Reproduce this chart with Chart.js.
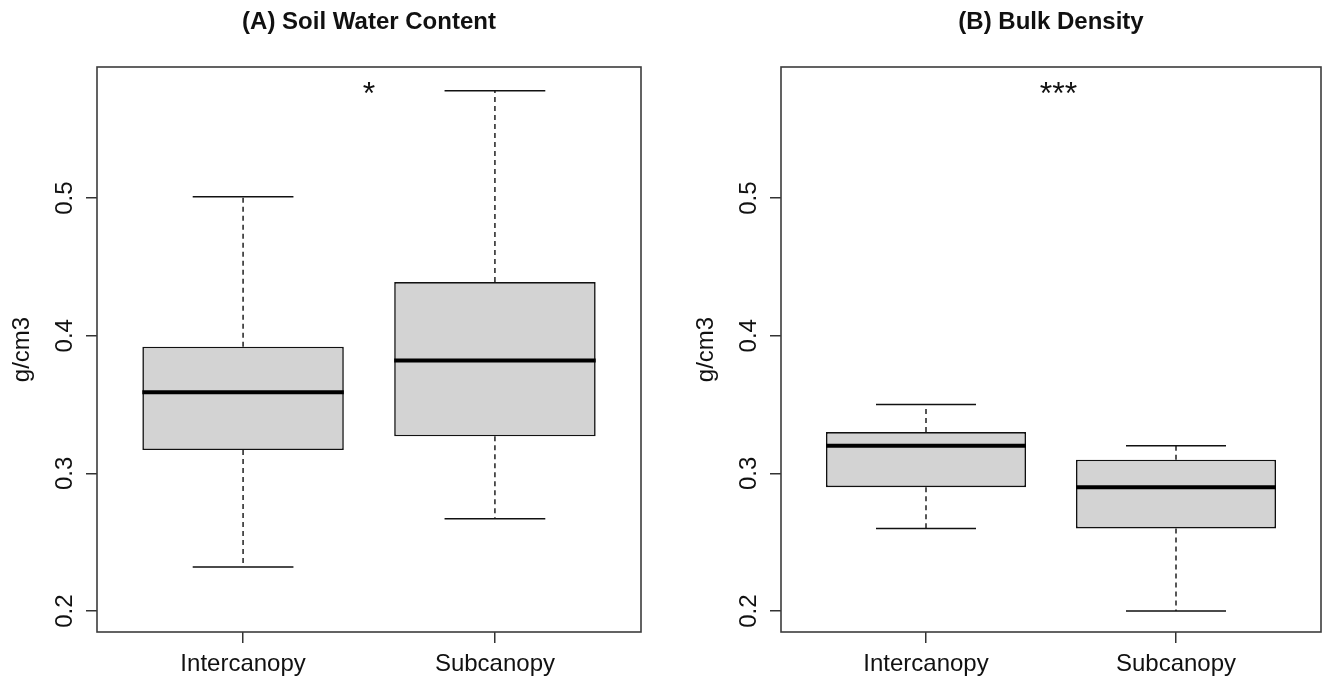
<!DOCTYPE html>
<html>
<head>
<meta charset="utf-8">
<title>Soil water content and bulk density</title>
<script src="https://cdn.jsdelivr.net/npm/chart.js@4.4.1/dist/chart.umd.min.js"></script>
<style>
  html, body { margin: 0; padding: 0; background: #ffffff; }
  #wrap { position: relative; width: 1325px; height: 681px; overflow: hidden; }
  .panel { position: absolute; top: 0; height: 681px; }
  #pA { left: 0; width: 662px; }
  #pB { left: 662px; width: 663px; }
</style>
</head>
<body>
<div id="wrap">
  <div class="panel" id="pA"><canvas id="cA" width="662" height="681"></canvas></div>
  <div class="panel" id="pB"><canvas id="cB" width="663" height="681"></canvas></div>
</div>
<script>
// Groups and axis settings
const groups = ['Intercanopy', 'Subcanopy'];
const yTicks = [0.2, 0.3, 0.4, 0.5];
const yLimits = [0.2, 0.58];
const yLabel = 'g/cm3';

// (A) Soil water content: five-number summaries per group
const swcMin    = [0.232, 0.267];
const swcQ1     = [0.317, 0.327];
const swcMedian = [0.359, 0.382];
const swcQ3     = [0.392, 0.439];
const swcMax    = [0.501, 0.578];

// (B) Bulk density: five-number summaries per group
const bdMin    = [0.26, 0.20];
const bdQ1     = [0.29, 0.26];
const bdMedian = [0.32, 0.29];
const bdQ3     = [0.33, 0.31];
const bdMax    = [0.35, 0.32];

const panelTitles = ['(A) Soil Water Content', '(B) Bulk Density'];
const signifMarks = ['*', '***'];

const FONT = '"Liberation Sans", Arial, Helvetica, sans-serif';
const INK = '#111111';

// Box-plot decorations drawn from the scales: whiskers, caps, medians,
// frame, rotated y tick labels, axis label, panel title and significance mark.
const boxPlotParts = {
  id: 'boxPlotParts',
  beforeDatasetsDraw(chart) {
    const o = chart.options.plugins.boxPlotParts;
    const s = o.stats;
    const y = chart.scales.y;
    const meta = chart.getDatasetMeta(0);
    const ctx = chart.ctx;
    ctx.save();
    meta.data.forEach((el, i) => {
      const x = el.x;
      const cap = el.width / 4;
      ctx.strokeStyle = INK;
      // dashed whiskers
      ctx.lineWidth = 1.4;
      ctx.setLineDash([5, 4]);
      ctx.beginPath();
      ctx.moveTo(x, y.getPixelForValue(s.q3[i]));
      ctx.lineTo(x, y.getPixelForValue(s.max[i]));
      ctx.moveTo(x, y.getPixelForValue(s.q1[i]));
      ctx.lineTo(x, y.getPixelForValue(s.min[i]));
      ctx.stroke();
      // whisker caps
      ctx.setLineDash([]);
      ctx.lineWidth = 1.5;
      ctx.beginPath();
      ctx.moveTo(x - cap, y.getPixelForValue(s.max[i]));
      ctx.lineTo(x + cap, y.getPixelForValue(s.max[i]));
      ctx.moveTo(x - cap, y.getPixelForValue(s.min[i]));
      ctx.lineTo(x + cap, y.getPixelForValue(s.min[i]));
      ctx.stroke();
    });
    ctx.restore();
  },
  afterDatasetsDraw(chart) {
    const o = chart.options.plugins.boxPlotParts;
    const s = o.stats;
    const y = chart.scales.y;
    const xs = chart.scales.x;
    const area = chart.chartArea;
    const meta = chart.getDatasetMeta(0);
    const ctx = chart.ctx;
    ctx.save();
    // medians
    meta.data.forEach((el, i) => {
      const half = el.width / 2;
      const py = y.getPixelForValue(s.median[i]);
      ctx.strokeStyle = '#000000';
      ctx.lineWidth = 4;
      ctx.beginPath();
      ctx.moveTo(el.x - half, py);
      ctx.lineTo(el.x + half, py);
      ctx.stroke();
    });
    // frame
    ctx.strokeStyle = '#3c3c3c';
    ctx.lineWidth = 1.6;
    ctx.strokeRect(area.left, area.top, area.right - area.left, area.bottom - area.top);

    ctx.fillStyle = INK;
    // y tick labels, parallel to the axis
    ctx.font = '24px ' + FONT;
    ctx.textAlign = 'center';
    ctx.textBaseline = 'alphabetic';
    yTicks.forEach(v => {
      ctx.save();
      ctx.translate(area.left - 25, y.getPixelForValue(v));
      ctx.rotate(-Math.PI / 2);
      ctx.fillText(String(v), 0, 0);
      ctx.restore();
    });
    // y axis label
    ctx.save();
    ctx.translate(area.left - 68, (area.top + area.bottom) / 2);
    ctx.rotate(-Math.PI / 2);
    ctx.fillText(yLabel, 0, 0);
    ctx.restore();
    // category labels
    groups.forEach((g, i) => {
      ctx.fillText(g, xs.getPixelForValue(i + 1), area.bottom + 39);
    });
    // panel title
    ctx.font = 'bold 24px ' + FONT;
    ctx.textBaseline = 'middle';
    ctx.fillText(o.title, (area.left + area.right) / 2, 22);
    // significance mark
    const fs = 32;
    ctx.font = fs + 'px ' + FONT;
    ctx.textBaseline = 'alphabetic';
    ctx.fillText(o.mark, xs.getPixelForValue(o.markX), y.getPixelForValue(o.markY) + 0.5 * fs);
    ctx.restore();
  }
};

function makePanel(canvasId, title, stats, mark, markX, axisWidth, rightPad) {
  const positions = groups.map((g, i) => i + 1);
  const ySpan = yLimits[1] - yLimits[0];
  const xLimits = [0.5, groups.length + 0.5];
  const xSpan = xLimits[1] - xLimits[0];
  const boxes = positions.map((p, i) => ({ x: p, y: [stats.q1[i], stats.q3[i]] }));

  return new Chart(document.getElementById(canvasId), {
    type: 'bar',
    data: {
      datasets: [{
        data: boxes,
        backgroundColor: '#d3d3d3',
        borderColor: '#111111',
        borderWidth: 1.6,
        borderSkipped: false,
        categoryPercentage: 0.8,
        barPercentage: 1.0
      }]
    },
    plugins: [boxPlotParts],
    options: {
      responsive: false,
      animation: false,
      devicePixelRatio: 1,
      layout: { padding: { top: 67, right: rightPad, left: 0, bottom: 0 } },
      plugins: {
        legend: { display: false },
        title: { display: false },
        tooltip: { enabled: false },
        boxPlotParts: { stats, title, mark, markX, markY: 0.58 }
      },
      scales: {
        x: {
          type: 'linear',
          offset: false,
          min: xLimits[0] - 0.04 * xSpan,
          max: xLimits[1] + 0.04 * xSpan,
          afterBuildTicks: sc => { sc.ticks = positions.map(v => ({ value: v })); },
          afterFit: sc => { sc.height = 49; },
          ticks: { display: false },
          grid: {
            display: true, offset: false, drawOnChartArea: false, drawTicks: true,
            tickLength: 11, color: '#333333', lineWidth: 1.5
          },
          border: { display: false }
        },
        y: {
          type: 'linear',
          min: yLimits[0] - 0.04 * ySpan,
          max: yLimits[1] + 0.04 * ySpan,
          afterBuildTicks: sc => { sc.ticks = yTicks.map(v => ({ value: v })); },
          afterFit: sc => { sc.width = axisWidth; },
          ticks: { display: false },
          grid: {
            display: true, drawOnChartArea: false, drawTicks: true,
            tickLength: 11, color: '#333333', lineWidth: 1.5
          },
          border: { display: false }
        }
      }
    }
  });
}

makePanel('cA', panelTitles[0],
  { min: swcMin, q1: swcQ1, median: swcMedian, q3: swcQ3, max: swcMax },
  signifMarks[0], 1.5, 97, 21);
makePanel('cB', panelTitles[1],
  { min: bdMin, q1: bdQ1, median: bdMedian, q3: bdQ3, max: bdMax },
  signifMarks[1], 1.53, 119, 4);
</script>
</body>
</html>
